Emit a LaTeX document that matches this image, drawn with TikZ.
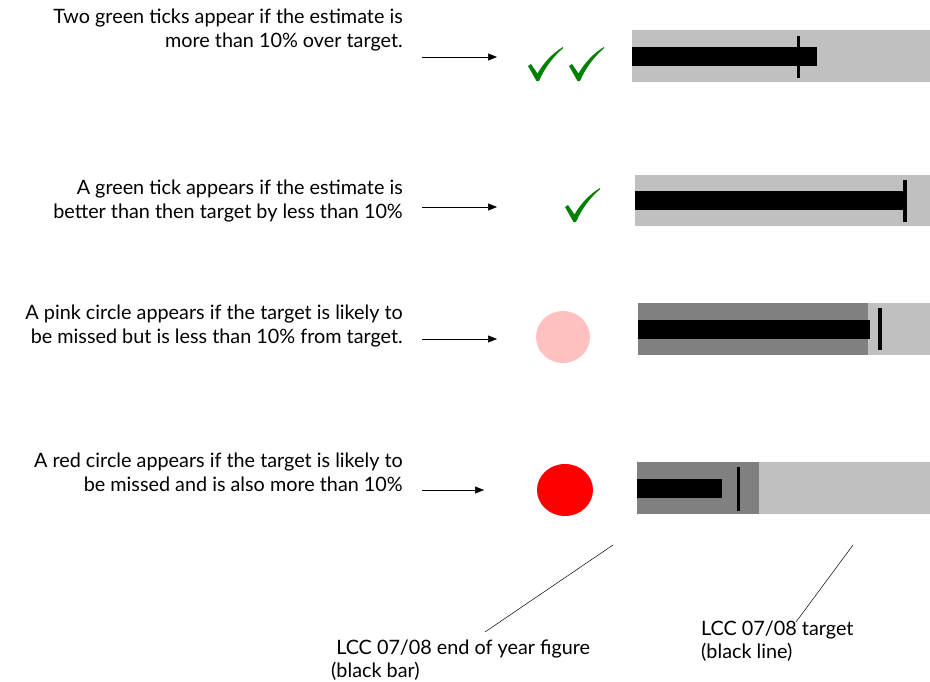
\documentclass[tikz,border=0pt]{standalone}
\usepackage{fontspec}
\setmainfont{Lato}
\usetikzlibrary{arrows.meta}
\definecolor{bglight}{HTML}{C0C0C0}
\definecolor{bgdark}{HTML}{808080}
\definecolor{tickgreen}{HTML}{008000}
\definecolor{pinkc}{HTML}{FFC0C0}
\definecolor{redc}{HTML}{FF0000}
\begin{document}
\begin{tikzpicture}[x=1pt,y=-1pt,
  desc/.style={font=\fontsize{19.8}{24}\selectfont, inner sep=0pt, align=right, anchor=base east},
  lbl/.style={font=\fontsize{19.8}{23}\selectfont, inner sep=0pt, align=left, anchor=base west},
  arr/.style={line width=0.5pt, -{Triangle[length=9pt,width=7pt]}},
  pointer/.style={line width=0.5pt},
  tickshape/.pic={
    \fill[tickgreen] (0,19) -- (3,17) -- (9.5,26.5)
      .. controls (16,15) and (25,6) .. (35,0) -- (35,1.2)
      .. controls (26,9) and (17,20) .. (11,34) -- (8.5,34) -- cycle;
  }]
\useasboundingbox (0,0) rectangle (930,681);
\fill[white] (0,0) rectangle (930,681);

% ---- Row 1
\node[desc] (t1) at (403,47) {Two green ticks appear if the estimate is\\more than 10\% over target.};
\coordinate (a1s) at (422,57);
\coordinate (a1e) at (497,57);
\draw[arr] (a1s) -- (a1e);
\pic at (528,47) {tickshape};
\pic at (569,47) {tickshape};
\fill[bglight] (632,30) rectangle (930,82);
\fill[black] (632,47) rectangle (817,66);
\fill[black] (796.5,36) rectangle (799.5,78);

% ---- Row 2
\node[desc] (t2) at (403,218) {A green tick appears if the estimate is\\better than then target by less than 10\%};
\coordinate (a2s) at (422,207);
\coordinate (a2e) at (497,207);
\draw[arr] (a2s) -- (a2e);
\pic at (565,188) {tickshape};
\fill[bglight] (635,175) rectangle (930,226);
\fill[black] (635,191) rectangle (905,210);
\fill[black] (903,180) rectangle (906.5,222);

% ---- Row 3
\node[desc] (t3) at (403,343) {A pink circle appears if the target is likely to\\be missed but is less than 10\% from target.};
\coordinate (a3s) at (422,339);
\coordinate (a3e) at (497,339);
\draw[arr] (a3s) -- (a3e);
\fill[pinkc] (563,337) ellipse [x radius=27, y radius=26];
\fill[bglight] (638,303) rectangle (930,355);
\fill[bgdark] (638,303) rectangle (868,355);
\fill[black] (638,320) rectangle (870,339);
\fill[black] (878,308) rectangle (881.5,350);

% ---- Row 4
\node[desc] (t4) at (403,491) {A red circle appears if the target is likely to\\be missed and is also more than 10\%};
\coordinate (a4s) at (422,490);
\coordinate (a4e) at (484,490);
\draw[arr] (a4s) -- (a4e);
\fill[redc] (565,490) ellipse [x radius=28, y radius=26];
\fill[bglight] (637,462) rectangle (930,514);
\fill[bgdark] (637,462) rectangle (759,514);
\fill[black] (637,479) rectangle (722,498);
\fill[black] (736.5,467) rectangle (740,511);

% ---- Bottom labels
\node[lbl] (l1) at (331,677) {\ LCC 07/08 end of year figure\\(black bar)};
\node[lbl] (l2) at (701,658) {LCC 07/08 target\\(black line)};
\coordinate (p1s) at (613,545);
\coordinate (p1e) at (485,632);
\coordinate (p2s) at (853,545);
\coordinate (p2e) at (796,622);
\draw[pointer] (p1s) -- (p1e);
\draw[pointer] (p2s) -- (p2e);
\end{tikzpicture}
\end{document}
